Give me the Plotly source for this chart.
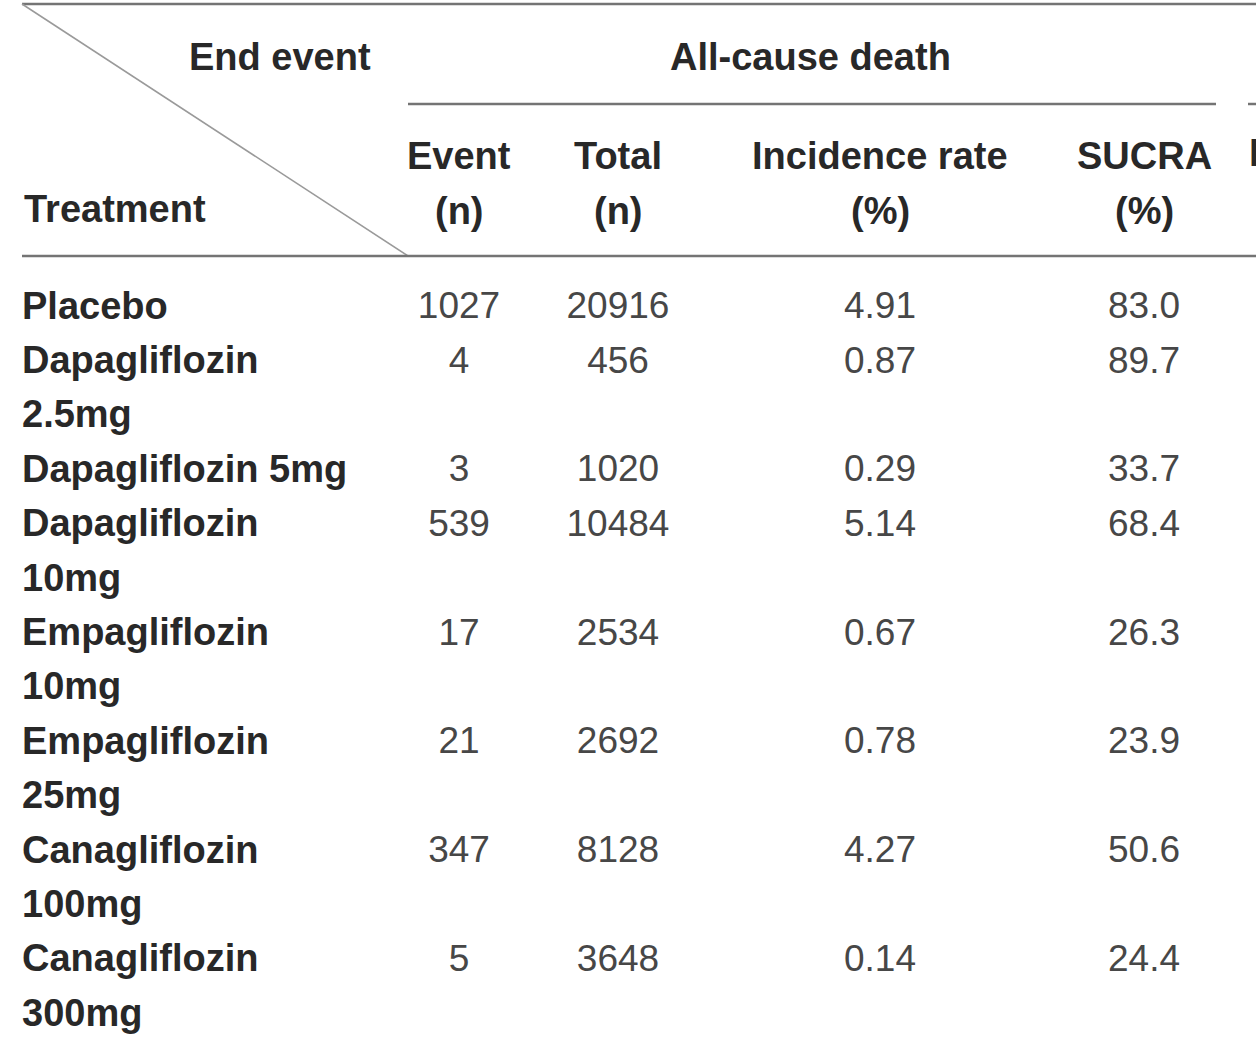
import textwrap
import plotly.graph_objects as go

# table content
treatments = ["Placebo", "Dapagliflozin 2.5mg", "Dapagliflozin 5mg", "Dapagliflozin 10mg",
              "Empagliflozin 10mg", "Empagliflozin 25mg", "Canagliflozin 100mg", "Canagliflozin 300mg"]
event_n = [1027, 4, 3, 539, 17, 21, 347, 5]
total_n = [20916, 456, 1020, 10484, 2534, 2692, 8128, 3648]
incidence = ["4.91", "0.87", "0.29", "5.14", "0.67", "0.78", "4.27", "0.14"]
sucra = ["83.0", "89.7", "33.7", "68.4", "26.3", "23.9", "50.6", "24.4"]
col_heads = [["Event", "(n)"], ["Total", "(n)"], ["Incidence rate", "(%)"], ["SUCRA", "(%)"]]

W, H = 1256, 1051
FONT = "Liberation Sans"
LBL = "#282828"
NUM = "#474747"
RULE = "#747474"
BOLD_SIZE = 38
NUM_SIZE = 37

left = 22
col_x = [459, 618, 880, 1144]
first_y = 309
pitch = 54.4

# work out rows, wrapping long names like the source column does
lab_x, lab_y, lab_t = [], [], []
row_y = []
line = 0
for name in treatments:
    parts = textwrap.wrap(name, 17)
    row_y.append(first_y + pitch * line)
    for p in parts:
        lab_x.append(left)
        lab_y.append(first_y + pitch * line)
        lab_t.append("<b>%s</b>" % p)
        line += 1

fig = go.Figure()

fig.add_trace(go.Scatter(
    x=lab_x, y=lab_y, text=lab_t, mode="text", textposition="middle right",
    textfont=dict(family=FONT, size=BOLD_SIZE, color=LBL), hoverinfo="none"))

columns = [[str(v) for v in event_n], [str(v) for v in total_n], incidence, sucra]
for cx, vals in zip(col_x, columns):
    fig.add_trace(go.Scatter(
        x=[cx] * len(vals), y=row_y, text=vals, mode="text", textposition="middle center",
        textfont=dict(family=FONT, size=NUM_SIZE, color=NUM), hoverinfo="none"))

# header texts
head_font = dict(family=FONT, size=BOLD_SIZE, color=LBL)
ann = [
    dict(x=280, y=57, text="<b>End event</b>"),
    dict(x=810, y=57, text="<b>All-cause death</b>"),
    dict(x=left, y=209, text="<b>Treatment</b>", xanchor="left"),
]
for cx, (a, b) in zip(col_x, col_heads):
    ann.append(dict(x=cx, y=156, text="<b>%s</b>" % a))
    ann.append(dict(x=cx, y=211, text="<b>%s</b>" % b))
annotations = []
for a in ann:
    d = dict(xref="x", yref="y", showarrow=False, font=head_font, xanchor="center", yanchor="middle")
    d.update(a)
    annotations.append(d)

# next column header, cut off at the right edge as in the source
fig.add_trace(go.Scatter(
    x=[1249], y=[156], text=["<b>Event</b>"], mode="text", textposition="middle right",
    textfont=dict(family=FONT, size=BOLD_SIZE, color=LBL), hoverinfo="none", cliponaxis=True))

rule = dict(color=RULE, width=2.5)
shapes = [
    dict(type="line", x0=left, x1=W, y0=4, y1=4, line=rule),
    dict(type="line", x0=left, x1=408, y0=4, y1=256, line=dict(color="#9a9a9a", width=1.5)),
    dict(type="line", x0=408, x1=1216, y0=104, y1=104, line=rule),
    dict(type="line", x0=1248, x1=W, y0=104, y1=104, line=rule),
    dict(type="line", x0=left, x1=W, y0=256, y1=256, line=rule),
]

fig.update_layout(
    width=W, height=H,
    margin=dict(l=0, r=0, t=0, b=0),
    paper_bgcolor="white", plot_bgcolor="white",
    showlegend=False,
    xaxis=dict(range=[0, W], visible=False, fixedrange=True),
    yaxis=dict(range=[H, 0], visible=False, fixedrange=True),
    annotations=annotations,
    shapes=shapes,
)

# drop the browser's default body margin so the figure fills the window
fig.write_html("out.html", config={"displayModeBar": False},
               post_script="document.body.style.margin='0';")
